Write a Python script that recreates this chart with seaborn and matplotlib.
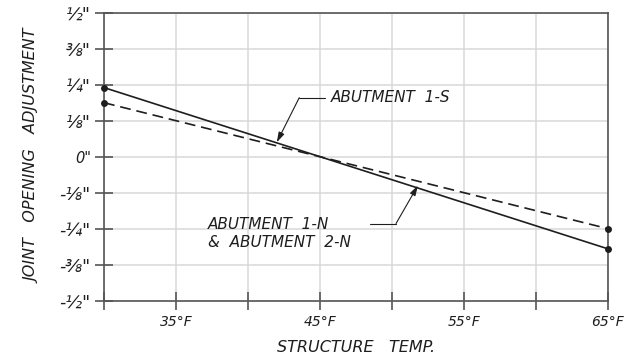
import numpy as np
import pandas as pd
import seaborn as sns
import matplotlib.pyplot as plt

# data
temps = [30, 65]
abutment_1s = [0.24, -0.32]
abutment_1n_2n = [0.1875, -0.25]
series_names = ['ABUTMENT 1-S', 'ABUTMENT 1-N & 2-N']

x_ticks = [30, 35, 40, 45, 50, 55, 60, 65]
x_tick_labels = ['', '35°F', '', '45°F', '', '55°F', '', '65°F']
y_ticks = [0.5, 0.375, 0.25, 0.125, 0, -0.125, -0.25, -0.375, -0.5]
y_tick_labels = ['½"', '⅜"', '¼"', '⅛"', '0"', '-⅛"', '-¼"', '-⅜"', '-½"']

df = pd.DataFrame({
    'temp': temps * 2,
    'adj': abutment_1s + abutment_1n_2n,
    'series': [series_names[0]] * 2 + [series_names[1]] * 2,
})

sns.set_style('white')
plt.rcParams['font.family'] = ['DejaVu Sans']
plt.rcParams['font.style'] = 'italic'

ink = '#1e1e1e'
spine = '#555555'

fig = plt.figure(figsize=(6.44, 3.61), dpi=100)
ax = fig.add_axes([104 / 644, 1 - 300.7 / 361, 504 / 644, 288 / 361])

sns.lineplot(data=df, x='temp', y='adj', style='series', hue='series',
             palette={series_names[0]: ink, series_names[1]: ink},
             dashes={series_names[0]: '', series_names[1]: (6.5, 3.5)},
             markers={series_names[0]: 'o', series_names[1]: 'o'},
             markersize=5, markeredgewidth=0, linewidth=1.2,
             legend=False, ax=ax, zorder=3, clip_on=False)

ax.set_xlim(30, 65)
ax.set_ylim(-0.5, 0.5)
ax.set_xticks(x_ticks)
ax.set_xticklabels(x_tick_labels)
ax.set_yticks(y_ticks)
ax.set_yticklabels(y_tick_labels)

ax.grid(True, color='#d8d8d8', linewidth=1.1)
ax.set_axisbelow(True)
for s in ax.spines.values():
    s.set_color(spine)
    s.set_linewidth(1.2)
    s.set_visible(True)

ax.tick_params(axis='both', direction='inout', length=13, width=1.2, color=spine,
               labelcolor=ink, bottom=True, left=True)
ax.tick_params(axis='y', pad=3, labelsize=12.5)
ax.tick_params(axis='x', pad=4, labelsize=10)
for lbl in ax.get_yticklabels():
    if lbl.get_text() == '0"':
        lbl.set_fontsize(10.5)

ax.set_xlabel('STRUCTURE   TEMP.', fontsize=11.5, color=ink)
ax.set_ylabel('JOINT   OPENING   ADJUSTMENT', fontsize=11.5, color=ink)
ax.xaxis.set_label_coords(0.5, -0.135)
ax.yaxis.set_label_coords(-0.125, 0.5)

arrow = dict(arrowstyle='-|>,head_length=0.6,head_width=0.18', color=ink, lw=0.8,
             shrinkA=0, shrinkB=0)

# ABUTMENT 1-S leader
ax.annotate('', xy=(42.0, 0.05), xytext=(43.56, 0.205), arrowprops=arrow)
ax.plot([43.56, 45.35], [0.205, 0.205], color=ink, lw=0.8)
ax.text(45.75, 0.205, 'ABUTMENT  1-S', fontsize=11, color=ink, va='center', ha='left')

# ABUTMENT 1-N & 2-N leader
ax.annotate('', xy=(51.8, -0.10), xytext=(50.28, -0.232), arrowprops=arrow)
ax.plot([48.47, 50.28], [-0.232, -0.232], color=ink, lw=0.8)
ax.text(37.24, -0.234, 'ABUTMENT  1-N', fontsize=11, color=ink, va='center', ha='left')
ax.text(37.24, -0.299, '&  ABUTMENT  2-N', fontsize=11, color=ink, va='center', ha='left')

fig.savefig('out.png', dpi=100)
